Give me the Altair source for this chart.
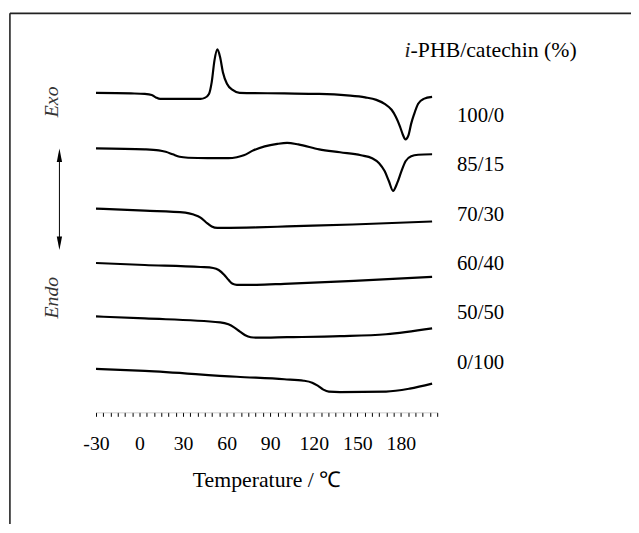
import altair as alt
import pandas as pd

# ---- data (heat flow in arbitrary units, relative to each trace's start) ----
series_names = ["100/0", "85/15", "70/30", "60/40", "50/50", "0/100"]
offsets = [323, 267, 206, 151, 97, 44]

t_100_0 = [-30, -6, 3.6, 8.4, 11.3, 14.2, 18, 42, 44.9, 47.8, 49.7, 51.6, 53.6, 55.5, 57.4, 60.3, 64.1, 68.9, 99.7, 123.7, 142.9, 155.4, 163.1, 168.8, 173.6, 176.5, 179.4, 181.3, 183.2, 185.2, 187.1, 189, 191.9, 195.7, 201.5]
h_100_0 = [0, -0.5, -1, -2, -4.5, -6, -6, -6, -5, -1, 11, 33, 44, 36, 21, 9, 3, 0, -0.5, -1, -2.5, -4.5, -7, -11, -17, -24, -34, -42, -47, -43, -31, -22, -11, -6, -4]

t_85_15 = [-30, 3.6, 13.2, 18, 22.8, 27.6, 33.4, 46.8, 61.2, 67, 71.8, 78.5, 86.2, 94.9, 101.6, 109.3, 123.7, 138.1, 152.5, 160.2, 165, 168.8, 171.7, 174.6, 177.5, 180.4, 183.2, 187.1, 191.9, 201.5]
h_85_15 = [0, -1, -2, -3.5, -6, -8.5, -9.5, -10, -10, -9, -7, -2, 2, 4.5, 5.5, 4, -1, -4, -7, -10, -15, -23, -33, -43, -35, -23, -13, -8, -6.5, -6]

t_70_30 = [-30, 3.6, 31.5, 37.2, 42, 45.9, 49.7, 53.6, 57.4, 80.5, 101.6, 146.7, 201.5]
h_70_30 = [0, -2, -4, -6, -9, -14, -18, -19.5, -19.5, -19, -18, -16, -13]

t_60_40 = [-30, 3.6, 42, 50.7, 54.5, 58.4, 61.2, 64.1, 67, 80.5, 99.7, 147.7, 201.5]
h_60_40 = [0, -2, -4, -5, -7, -12, -17, -21, -22, -22, -21, -18, -14]

t_50_50 = [-30, 3.6, 55.5, 61.2, 65.1, 68.9, 72.8, 76.6, 80.5, 101.6, 138.1, 169.8, 201.5]
h_50_50 = [0, -2, -6, -8, -11, -15, -19, -21, -21.5, -21, -20, -18, -12]

t_0_100 = [-30, 3.6, 67, 99.7, 113.1, 118.9, 122.7, 126.6, 130.4, 138.1, 169.8, 186.1, 201.5]
h_0_100 = [0, -2, -8, -10.5, -12, -14, -17, -21, -23, -23.5, -23, -20, -15]

temps = [t_100_0, t_85_15, t_70_30, t_60_40, t_50_50, t_0_100]
heats = [h_100_0, h_85_15, h_70_30, h_60_40, h_50_50, h_0_100]

label_pos = [300, 250, 200, 150, 100, 50]
label_t = 218.6

header_t = 186.7
header_pos = 366

tick_values = list(range(-30, 206, 5))
tick_labels = [-30, 0, 30, 60, 90, 120, 150, 180]

# frame edges (in data units, drawn through the same scales)
frame_t = [-89.3, 400]
frame_hf = [403.5, -130]

# ---- build tables ----
rows = []
for name, off, ts, hs in zip(series_names, offsets, temps, heats):
    for t, h in zip(ts, hs):
        rows.append({"series": name, "T": t, "hf": off + h})
df = pd.DataFrame(rows)

lab_df = pd.DataFrame({"label": series_names, "T": [label_t] * len(series_names), "hf": label_pos})
head_i = pd.DataFrame({"txt": ["i"], "T": [header_t], "hf": [header_pos]})
head_rest = pd.DataFrame({"txt": ["-PHB/catechin (%)"], "T": [header_t], "hf": [header_pos]})

FONT = "Liberation Serif"

xscale = alt.Scale(domain=[-30, 205], nice=False, zero=False)
yscale = alt.Scale(domain=[0, 404], nice=False, zero=False)

lo, hi = min(tick_labels), max(tick_labels)
label_expr = (
    "((datum.value - (" + str(lo) + ")) % 30 == 0) && datum.value >= " + str(lo)
    + " && datum.value <= " + str(hi) + " ? '' + datum.value : ''"
)

x_axis = alt.Axis(
    values=tick_values, labelExpr=label_expr, tickSize=4, tickColor="black", tickWidth=1,
    domain=True, domainColor="#999", domainWidth=0.5, grid=False,
    labelFont=FONT, labelFontSize=20, labelColor="black", labelPadding=18,
    labelFlush=False, labelOverlap=False, labelBound=False,
    title="Temperature / ℃", titleFont=FONT, titleFontSize=22, titleFontWeight="normal",
    titleColor="black", titlePadding=16,
)

X = alt.X("T:Q", scale=xscale, axis=x_axis)
Y = alt.Y("hf:Q", scale=yscale, axis=None)

lines = alt.Chart(df).mark_line(color="black", strokeWidth=2.2, interpolate="monotone").encode(
    x=X, y=Y, detail="series:N",
)

labels = alt.Chart(lab_df).mark_text(font=FONT, fontSize=21, align="left", baseline="middle", color="black").encode(
    x=X, y=Y, text="label:N"
)

h1 = alt.Chart(head_i).mark_text(font=FONT, fontSize=22, fontStyle="italic", align="right", baseline="middle", color="#222").encode(
    x=X, y=Y, text="txt:N"
)
h2 = alt.Chart(head_rest).mark_text(font=FONT, fontSize=22, align="left", baseline="middle", color="black").encode(
    x=X, y=Y, text="txt:N"
)

# Exo / Endo annotation with double arrow
exo = alt.Chart(pd.DataFrame({"t": ["Exo"]})).mark_text(font=FONT, fontSize=20, fontStyle="italic", angle=270, align="center", baseline="middle", color="#333").encode(
    x=alt.value(-44), y=alt.value(90), text="t:N")
endo = alt.Chart(pd.DataFrame({"t": ["Endo"]})).mark_text(font=FONT, fontSize=20, fontStyle="italic", angle=270, align="center", baseline="middle", color="#333").encode(
    x=alt.value(-44), y=alt.value(288), text="t:N")
shaft = alt.Chart(pd.DataFrame({"a": [0]})).mark_rule(color="black", strokeWidth=1).encode(
    x=alt.value(-37), y=alt.value(142), y2=alt.value(235))
head_up = alt.Chart(pd.DataFrame({"a": [0]})).mark_point(shape="M0,-1L0.4,1L-0.4,1Z", filled=True, color="black", size=180, opacity=1).encode(
    x=alt.value(-37), y=alt.value(144))
head_dn = alt.Chart(pd.DataFrame({"a": [0]})).mark_point(shape="M0,1L0.4,-1L-0.4,-1Z", filled=True, color="black", size=180, opacity=1).encode(
    x=alt.value(-37), y=alt.value(233))

# frame around the figure (right and bottom edges fall outside the page)
frame_top = alt.Chart(pd.DataFrame({"t1": [frame_t[0]], "t2": [frame_t[1]], "hf": [frame_hf[0]]})).mark_rule(
    color="#222", strokeWidth=1.6).encode(
    x=alt.X("t1:Q", scale=xscale, axis=x_axis), x2="t2:Q", y=alt.Y("hf:Q", scale=yscale, axis=None))
frame_left = alt.Chart(pd.DataFrame({"t": [frame_t[0]], "h1": [frame_hf[0]], "h2": [frame_hf[1]]})).mark_rule(
    color="#222", strokeWidth=1.6).encode(
    x=alt.X("t:Q", scale=xscale, axis=x_axis), y=alt.Y("h1:Q", scale=yscale, axis=None), y2="h2:Q")

chart = alt.layer(
    frame_top, frame_left, lines, labels, h1, h2, exo, endo, shaft, head_up, head_dn
).properties(
    width=345, height=404,
    padding={"left": 89, "top": 2, "right": 196, "bottom": 110},
    autosize=alt.AutoSizeParams(type="none"),
    background="white",
).configure_view(strokeWidth=0)

chart.save("out.html", embed_options={"renderer": "svg", "actions": False})
